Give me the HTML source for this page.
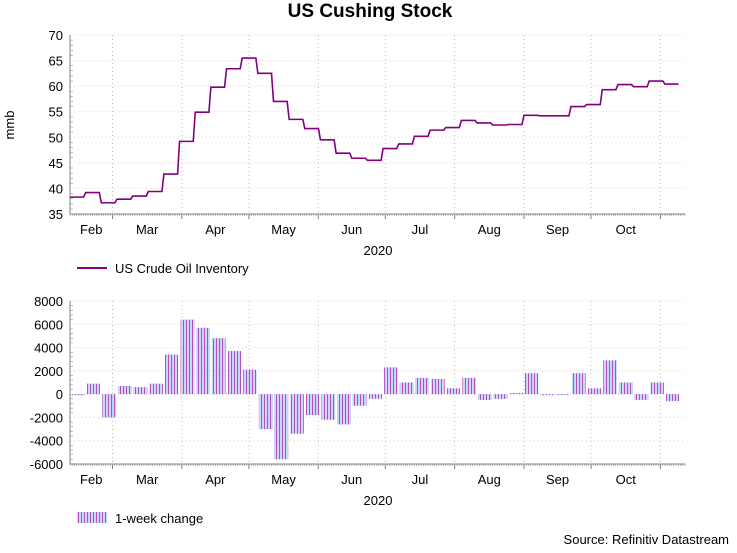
<!DOCTYPE html>
<html><head><meta charset="utf-8">
<style>
body{margin:0;background:#fff;font-family:"Liberation Sans",Arial,sans-serif;}
svg text{font-family:"Liberation Sans",Arial,sans-serif;}
</style></head>
<body>
<svg id="c" width="737" height="548">
<defs>
<pattern id="hatch" width="3" height="4" patternUnits="userSpaceOnUse">
<rect x="0" y="0" width="1" height="4" fill="#b84cc0"/>
<rect x="1.5" y="0" width="1" height="4" fill="#8fb0f0"/>
</pattern>
</defs>
<text x="370" y="17" text-anchor="middle" font-size="19" font-weight="bold">US Cushing Stock</text>
<text x="14" y="125" text-anchor="middle" font-size="13" transform="rotate(-90 14 125)">mmb</text>
<g id="top"></g><g id="bot"></g>
<line x1="77" y1="268" x2="107" y2="268" stroke="#800080" stroke-width="2"/>
<text x="115" y="273" font-size="13">US Crude Oil Inventory</text>
<rect x="77" y="512" width="30" height="11" fill="url(#hatch)"/>
<text x="115" y="523" font-size="13">1-week change</text>
<text x="729" y="544" text-anchor="end" font-size="13">Source: Refinitiv Datastream</text>
</svg>
<script>
const weekStart = "2020-02-11";
const levels = [38.3,39.2,37.2,37.9,38.5,39.4,42.8,49.2,54.9,59.8,63.4,65.5,62.5,57.0,53.5,51.7,49.5,46.9,45.9,45.5,47.8,48.7,50.2,51.4,51.9,53.3,52.8,52.4,52.5,54.3,54.2,54.2,56.0,56.4,59.3,60.3,59.9,61.0,60.4];
const changes = [-100,900,-2000,700,600,900,3400,6400,5700,4800,3700,2100,-3000,-5600,-3400,-1800,-2200,-2600,-1000,-400,2300,1000,1400,1300,500,1400,-500,-400,100,1800,-100,0,1800,500,2900,1000,-500,1000,-600];
const topTicks = [35,40,45,50,55,60,65,70];
const botTicks = [-6000,-4000,-2000,0,2000,4000,6000,8000];
const months = [["Feb","2020-02-01"],["Mar","2020-03-01"],["Apr","2020-04-01"],["May","2020-05-01"],["Jun","2020-06-01"],["Jul","2020-07-01"],["Aug","2020-08-01"],["Sep","2020-09-01"],["Oct","2020-10-01"],["Nov","2020-11-01"]];

const NS="http://www.w3.org/2000/svg";
const X0=70,X1=685;
const d0=Date.parse("2020-02-11"),d1=Date.parse("2020-11-12");
function xs(t){return X0+(t-d0)/(d1-d0)*(X1-X0);}
function day(s){return Date.parse(s);}
function mk(p,tag,a){const e=document.createElementNS(NS,tag);for(const k in a)e.setAttribute(k,a[k]);p.appendChild(e);return e;}
const w0=day(weekStart), WK=7*864e5;

function axes(g,yT,yB,vmin,vmax,ticks,prefix){
  const ys=v=>yB-(v-vmin)/(vmax-vmin)*(yB-yT);
  ticks.forEach(v=>{
    const l=mk(g,'line',{x1:X0,x2:X1,y1:ys(v),y2:ys(v),stroke:'#e8c8c8','stroke-dasharray':'1 3'});
    
    
    const t=mk(g,'text',{x:63,y:ys(v)+5,'text-anchor':'end','font-size':13});
    t.textContent=v;
    
    
  });
  for(let i=1;i<months.length;i++){
    const x=xs(day(months[i][1]));
    if(x<X0||x>X1)continue;
    const l=mk(g,'line',{x1:x,x2:x,y1:yT,y2:yB,stroke:'#a8d0a8','stroke-dasharray':'1 3'});
    
    
    const tk=mk(g,'line',{x1:x,x2:x,y1:yB,y2:yB+5,stroke:'#808080'});
    
    
  }
  for(let t=d0;t<=d1;t+=864e5){
    const x=xs(t);
    const tk=mk(g,'line',{x1:x,x2:x,y1:yB,y2:yB+2,stroke:'#909090','stroke-width':0.6});
    
    
  }
  months.forEach((m,i)=>{
    const a=Math.max(xs(day(m[1])),X0);
    const b=i+1<months.length?Math.min(xs(day(months[i+1][1])),X1):X1;
    if(b-a<40)return;
    const t=mk(g,'text',{x:(a+b)/2,y:yB+20,'text-anchor':'middle','font-size':13});
    t.textContent=m[0];
    
    
  });
  const yr=mk(g,'text',{x:378,y:yB+41,'text-anchor':'middle','font-size':13});
  yr.textContent='2020';
  
  
  const ax=mk(g,'line',{x1:X0,x2:X0,y1:yT,y2:yB,stroke:'#808080'});
  
  
  const bx=mk(g,'line',{x1:X0,x2:X1,y1:yB,y2:yB,stroke:'#808080'});
  
  
  for(let i=0;i<ticks.length-1;i++){
    for(let k=1;k<5;k++){
      const v=ticks[i]+(ticks[i+1]-ticks[i])*k/5;
      const m=mk(g,'line',{x1:X0,x2:X0+3,y1:ys(v),y2:ys(v),stroke:'#909090','stroke-width':0.6});
      
      
    }
  }
  return ys;
}

const gT=document.getElementById('top');
const yT=axes(gT,35,214,35,70,topTicks,'top');
let d='';
levels.forEach((v,i)=>{
  const a=xs(w0+i*WK), b=Math.min(xs(w0+(i+1)*WK),X1), y=yT(v);
  d+=(i===0?'M':'L')+a+','+y+'L'+(b-2)+','+y;
});
const path=mk(gT,'path',{d:d,fill:'none',stroke:'#800080','stroke-width':1.6});



const gB=document.getElementById('bot');
const yB=axes(gB,301,464,-6000,8000,botTicks,'bottom');
changes.forEach((v,i)=>{
  const a=xs(w0+i*WK)+1, b=Math.min(xs(w0+(i+1)*WK),X1)-1;
  const y0=yB(0), y=yB(v);
  const r=mk(gB,'rect',{x:a,y:Math.min(y0,y),width:Math.max(b-a,0),height:Math.max(Math.abs(y-y0),1),fill:'url(#hatch)'});
  
  
});
</script>
</body></html>
